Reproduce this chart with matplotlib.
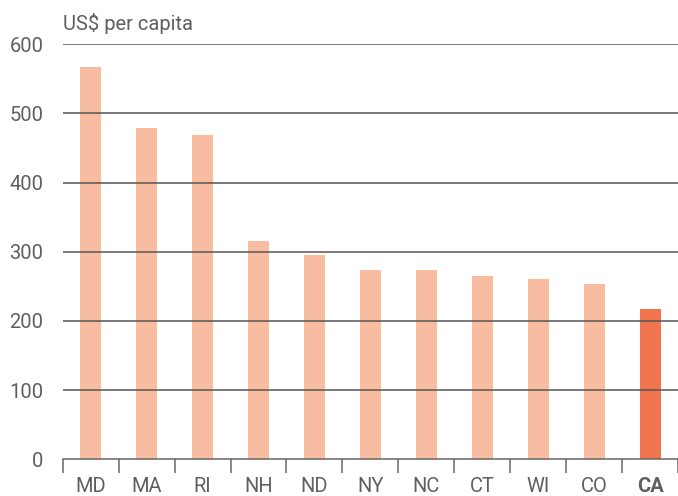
import matplotlib.pyplot as plt

# data
states = ['MD', 'MA', 'RI', 'NH', 'ND', 'NY', 'NC', 'CT', 'WI', 'CO', 'CA']
spend = [567, 479, 469, 315, 296, 273, 273, 265, 260, 254, 218]
highlight = 'CA'

light = '#F8BDA1'
dark = '#F1764F'
txt = '#5f5f5f'

plt.rcParams['font.family'] = ['Roboto', 'DejaVu Sans']

fig = plt.figure(figsize=(6.78, 4.96), dpi=100)
ax = fig.add_axes([0.0925, 0.074, 0.9075, 0.8367])

x = list(range(len(states)))
colors = [dark if s == highlight else light for s in states]
ax.bar(x, spend, width=0.375, color=colors, zorder=1)

ax.set_xlim(-0.5, len(states) - 0.5)
ax.set_ylim(0, 600)
ax.set_yticks([0, 100, 200, 300, 400, 500, 600])
for yv in [100, 200, 300, 400, 500, 600]:
    ax.axhline(yv, color='#555555', lw=1.1, zorder=2)

for sp in ['top', 'right', 'left']:
    ax.spines[sp].set_visible(False)
ax.spines['bottom'].set_color('#666666')
ax.spines['bottom'].set_linewidth(1.1)
ax.spines['bottom'].set_zorder(3)

# boundary ticks between categories
ax.set_xticks([i - 0.5 for i in range(len(states) + 1)], minor=False)
ax.set_xticklabels([])
ax.tick_params(axis='x', length=10, width=1.1, color='#666666', direction='out')
ax.set_xticks(x, minor=True)
ax.set_xticklabels(states, minor=True)
ax.tick_params(axis='x', which='minor', length=0, pad=13, labelsize=14.5, labelcolor=txt)
for lab in ax.get_xticklabels(minor=True):
    if lab.get_text() == highlight:
        lab.set_fontweight('bold')

ax.tick_params(axis='y', length=0, pad=14, labelsize=14.5, labelcolor=txt)

fig.text(0.0925, 0.953, 'US$ per capita', fontsize=14.5, color=txt, va='center', ha='left')

fig.savefig('out.png', dpi=100)
